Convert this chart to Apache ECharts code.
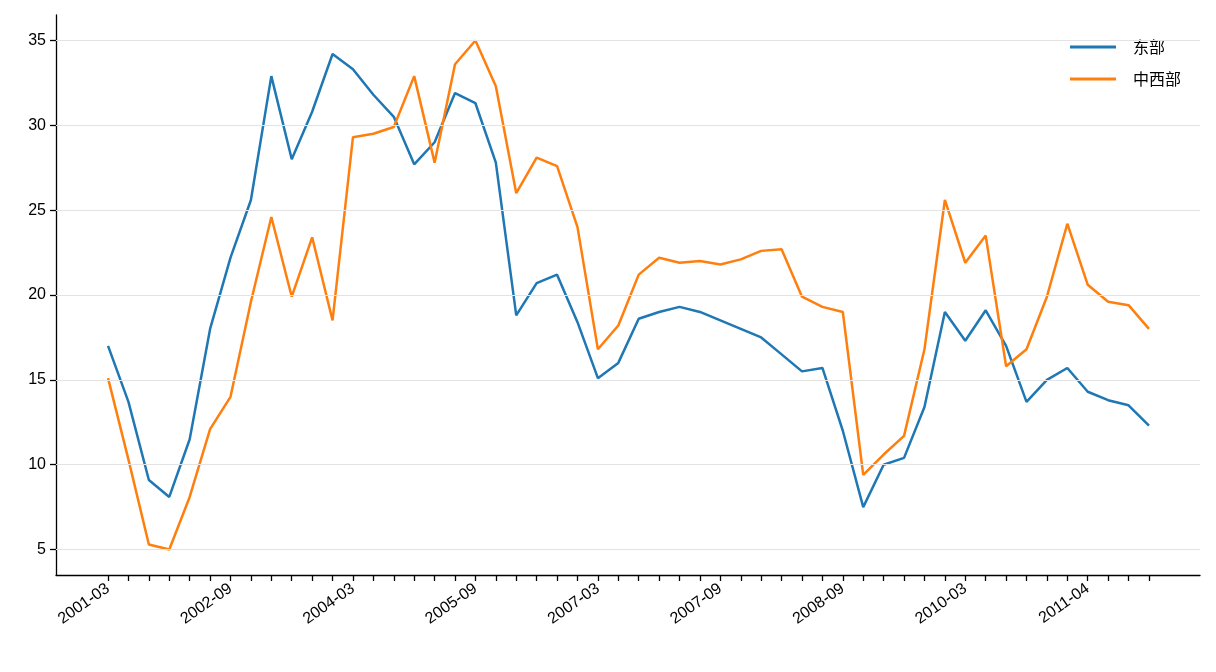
<!DOCTYPE html>
<html><head><meta charset="utf-8">
<script src="https://cdn.jsdelivr.net/npm/echarts@6/dist/echarts.min.js"></script>
<style>html,body{margin:0;padding:0;background:#fff}#c{width:1216px;height:672px}</style>
</head><body><div id="c"></div>
<script>
const categories = ["2001-03","2001-06","2001-09","2001-12","2002-03","2002-06","2002-09","2002-12","2003-03","2003-06","2003-09","2003-12","2004-03","2004-06","2004-09","2004-12","2005-03","2005-06","2005-09","2005-12","2006-03","2006-06","2006-09","2006-12","2007-03","2007-04","2007-05","2007-06","2007-07","2007-08","2007-09","2007-11","2008-01","2008-03","2008-05","2008-07","2008-09","2008-12","2009-03","2009-06","2009-09","2009-12","2010-03","2010-06","2010-08","2010-10","2010-12","2011-02","2011-04","2011-06","2011-08","2011-10"];
const east = [17.0,13.7,9.1,8.1,11.5,18.0,22.2,25.6,32.9,28.0,30.8,34.2,33.3,31.8,30.5,27.7,29.0,31.9,31.3,27.8,18.8,20.7,21.2,18.4,15.1,16.0,18.6,19.0,19.3,19.0,18.5,18.0,17.5,16.5,15.5,15.7,12.0,7.5,10.0,10.4,13.4,19.0,17.3,19.1,17.0,13.7,15.0,15.7,14.3,13.8,13.5,12.3];
const midwest = [15.1,10.3,5.3,5.0,8.1,12.1,14.0,19.6,24.6,19.9,23.4,18.5,29.3,29.5,29.9,32.9,27.8,33.6,35.0,32.3,26.0,28.1,27.6,24.0,16.8,18.2,21.2,22.2,21.9,22.0,21.8,22.1,22.6,22.7,19.9,19.3,19.0,9.4,10.6,11.7,16.8,25.6,21.9,23.5,15.8,16.8,19.9,24.2,20.6,19.6,19.4,18.0];
const yTicks = [5,10,15,20,25,30,35];
const labelIdx = [0,6,12,18,24,30,36,42,48];
const tickIdx = categories.map((_,i)=>i);

const chart = echarts.init(document.getElementById('c'));
const font = 'Liberation Sans, Arial, sans-serif';
chart.setOption({
  animation:false,
  grid:{left:56,right:16,top:15,bottom:97},
  legend:{right:30,top:34,orient:'vertical',itemWidth:46,itemHeight:3,itemGap:16,
    textStyle:{fontSize:16,fontFamily:'Noto Sans CJK SC',color:'#000',padding:[0,0,0,12]},
    icon:'rect',data:['东部','中西部']},
  xAxis:{type:'value',min:-2.55,max:53.5,
    axisLine:{onZero:false,lineStyle:{color:'#000',width:1.3}},
    axisTick:{show:true,customValues:tickIdx,length:6,lineStyle:{color:'#000',width:1.3}},
    axisLabel:{customValues:labelIdx,rotate:35,fontSize:16,fontFamily:font,color:'#000',margin:12,
      formatter:v=>categories[Math.round(v)]},
    splitLine:{show:false}},
  yAxis:{type:'value',min:3.5,max:36.5,
    axisLine:{show:true,onZero:false,lineStyle:{color:'#000',width:1.3}},
    axisTick:{show:true,customValues:yTicks,length:6,lineStyle:{color:'#000',width:1.3}},
    axisLabel:{customValues:yTicks,fontSize:16,fontFamily:font,color:'#000',margin:10},
    splitLine:{show:false}},
  series:[
    {name:'东部',type:'line',data:east.map((v,i)=>[i,v]),showSymbol:false,
     lineStyle:{color:'#1f77b4',width:2.5},itemStyle:{color:'#1f77b4'},
     markLine:{silent:true,symbol:'none',label:{show:false},
       lineStyle:{color:'#e3e3e3',width:1,type:'solid'},
       data:yTicks.map(v=>({yAxis:v}))},z:3},
    {name:'中西部',type:'line',data:midwest.map((v,i)=>[i,v]),showSymbol:false,
     lineStyle:{color:'#ff7f0e',width:2.5},itemStyle:{color:'#ff7f0e'},z:4}
  ]
});
</script></body></html>
